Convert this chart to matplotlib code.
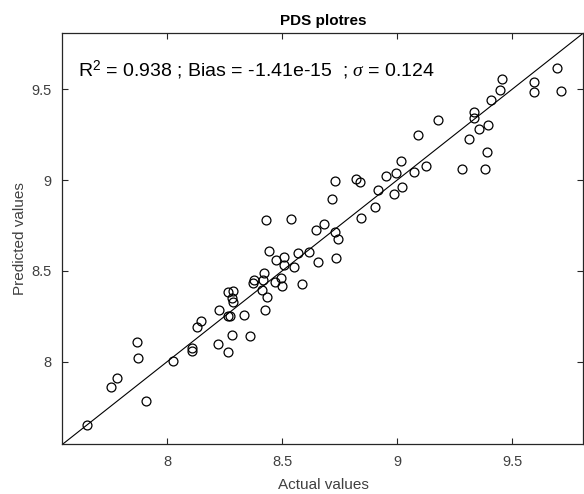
import matplotlib
matplotlib.use("Agg")
import matplotlib.pyplot as plt

plt.rcParams['font.family'] = ['Liberation Sans', 'DejaVu Sans']
plt.rcParams['mathtext.fontset'] = 'custom'
plt.rcParams['mathtext.rm'] = 'Liberation Sans'
plt.rcParams['mathtext.it'] = 'Liberation Serif:italic'

actual = [7.650, 7.755, 7.784, 7.906, 7.869, 7.872, 8.026, 8.107, 8.107, 8.130,
          8.146, 8.222, 8.227, 8.266, 8.264, 8.274, 8.284, 8.264, 8.287, 8.282,
          8.285, 8.334, 8.360, 8.375, 8.378, 8.412, 8.417, 8.422, 8.426, 8.435,
          8.428, 8.443, 8.467, 8.475, 8.496, 8.498, 8.506, 8.506, 8.537, 8.551,
          8.569, 8.585, 8.615, 8.647, 8.655, 8.684, 8.717, 8.728, 8.730, 8.741,
          8.735, 8.822, 8.838, 8.842, 8.905, 8.918, 8.952, 8.994, 8.988, 9.020,
          9.017, 9.075, 9.091, 9.127, 9.179, 9.284, 9.312, 9.333, 9.335, 9.357,
          9.382, 9.390, 9.409, 9.394, 9.446, 9.455, 9.596, 9.596, 9.694, 9.714]
predicted = [7.651, 7.861, 7.910, 7.782, 8.108, 8.020, 8.004, 8.077, 8.057, 8.190,
             8.225, 8.097, 8.282, 8.055, 8.254, 8.251, 8.148, 8.382, 8.390, 8.351,
             8.327, 8.256, 8.139, 8.434, 8.452, 8.393, 8.452, 8.487, 8.282, 8.357,
             8.781, 8.611, 8.441, 8.562, 8.459, 8.417, 8.576, 8.534, 8.788, 8.523,
             8.600, 8.426, 8.602, 8.724, 8.547, 8.757, 8.894, 8.995, 8.712, 8.673,
             8.573, 9.008, 8.990, 8.790, 8.854, 8.944, 9.021, 9.037, 8.924, 8.962,
             9.103, 9.044, 9.249, 9.079, 9.333, 9.059, 9.229, 9.376, 9.344, 9.284,
             9.063, 9.156, 9.443, 9.304, 9.498, 9.557, 9.538, 9.487, 9.619, 9.489]

ticks = [8, 8.5, 9, 9.5]
tick_labels = ['8', '8.5', '9', '9.5']
lims = [7.545, 9.81]
r2, bias, sigma = 0.938, '-1.41e-15', 0.124

fig = plt.figure(figsize=(5.84, 4.94), dpi=100)
ax = fig.add_axes([0.107, 0.1006, 0.892, 0.8326])

ax.plot(actual, predicted, linestyle='none', marker='o', markersize=6.4,
        markerfacecolor='none', markeredgecolor='black', markeredgewidth=0.9)
ax.plot(lims, lims, color='black', linewidth=0.8)

ax.set_xlim(lims)
ax.set_ylim(lims)
ax.set_xticks(ticks)
ax.set_xticklabels(tick_labels)
ax.set_yticks(ticks)
ax.set_yticklabels(tick_labels)
ax.tick_params(direction='in', length=4, width=0.8, colors='#262626',
               labelcolor='#404040', labelsize=10.5, top=True, right=True, pad=8)
for s in ax.spines.values():
    s.set_color('#262626')
    s.set_linewidth(0.9)

ax.set_xlabel('Actual values', fontsize=11, color='#404040', labelpad=6)
ax.set_ylabel('Predicted values', fontsize=11, color='#404040', labelpad=3)
ax.set_title('PDS plotres', fontsize=11, fontweight='bold', color='black', pad=6)

ax.text(7.612, 9.605, r'R$^{2}$ = %.3f ; Bias = %s  ; $\sigma$ = %.3f' % (r2, bias, sigma),
        fontsize=14, va='center', ha='left', color='black')

fig.savefig('out.png', dpi=100)
